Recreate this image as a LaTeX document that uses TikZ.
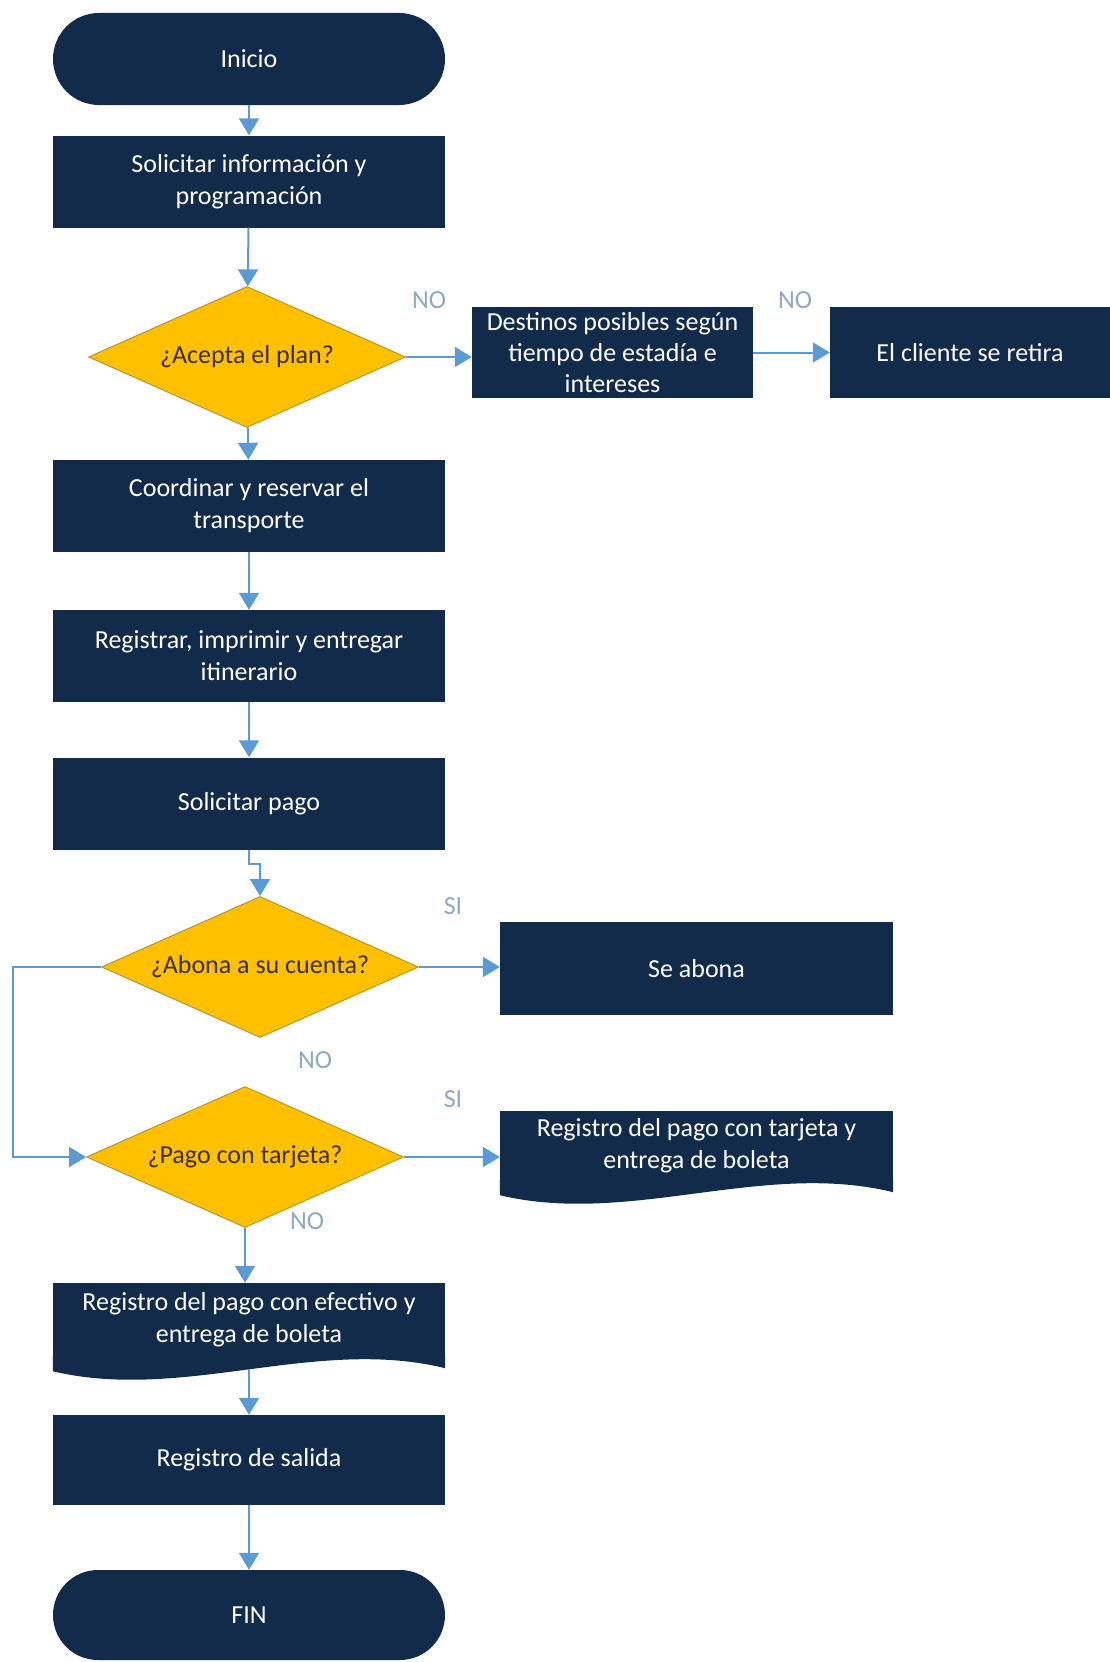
\documentclass[tikz,border=0pt]{standalone}
\usepackage{fontspec}
\setmainfont{Carlito}
\usetikzlibrary{shapes.geometric,arrows.meta,positioning}

\definecolor{navy}{HTML}{132B4B}
\definecolor{gold}{HTML}{FFC000}
\definecolor{goldline}{HTML}{B8962E}
\definecolor{flowblue}{HTML}{5B9BD5}
\definecolor{tagblue}{HTML}{8FA8C4}
\definecolor{asktext}{HTML}{3B2E0A}

\tikzset{
  every node/.style={font=\fontsize{26}{32}\selectfont},
  proc/.style={rectangle, fill=navy, text=white, align=center,
    minimum width=392pt, minimum height=92pt, inner sep=2pt},
  term/.style={proc, rounded corners=46pt},
  ask/.style={diamond, fill=gold, draw=goldline, line width=1pt,
    text=asktext, shape aspect=2.25, minimum width=317pt,
    minimum height=141pt, inner sep=0pt},
  paper/.style={proc, minimum height=72pt},
  tag/.style={text=tagblue},
  flow/.style={draw=flowblue, line width=2pt,
    -{Triangle[width=20pt,length=17pt]}}
}

% wavy lower edge of a document box
\newcommand\wavebottom[1]{%
  \fill[navy] (#1.south west) -- ([yshift=-15pt]#1.south west)
    .. controls ([xshift=130pt,yshift=-46pt]#1.south west)
    and ([xshift=-130pt,yshift=20pt]#1.south east)
    .. ([yshift=-12pt]#1.south east) -- (#1.south east) -- cycle;}

\begin{document}
\begin{tikzpicture}[x=1pt, y=-1pt]
    \useasboundingbox (0,0) rectangle (1110,1662);

    % main column
    \node[term] (inicio) at (249,59) {Inicio};
    \node[proc] (info) at (249,181.5) {Solicitar información y\\programación};
    \node[ask] (plan) at (247,357) {¿Acepta el plan?};
    \node[proc] (coord) at (249,506) {Coordinar y reservar el\\transporte};
    \node[proc] (itin) at (249,656) {Registrar, imprimir y entregar\\itinerario};
    \node[proc] (pago) at (249,803.5) {Solicitar pago};
    \node[ask] (abona) at (260,967) {¿Abona a su cuenta?};
    \node[ask] (tarjeta) at (245,1157) {¿Pago con tarjeta?};
    \node[paper, minimum height=73pt] (efectivo) at (249,1319.5)
      {Registro del pago con efectivo y\\entrega de boleta};
    \wavebottom{efectivo}
    \node[proc, minimum height=90pt] (salida) at (249,1460) {Registro de salida};
    \node[term, minimum height=90pt, rounded corners=45pt] (fin) at (249,1615) {FIN};

    % right side
    \node[proc, minimum width=281pt, minimum height=91pt, inner sep=0pt,
      font=\fontsize{26}{31}\selectfont] (destinos) at (612.5,352.5)
      {Destinos posibles según\\tiempo de estadía e\\intereses};
    \node[proc, minimum width=280pt, minimum height=91pt] (retira) at (970,352.5)
      {El cliente se retira};
    \node[proc, minimum width=393pt, minimum height=93pt] (seabona) at (696.5,968.5)
      {Se abona};
    \node[paper, minimum width=393pt, minimum height=69pt] (ptarjeta) at (696.5,1145.5)
      {Registro del pago con tarjeta y\\entrega de boleta};
    \wavebottom{ptarjeta}

    \coordinate (vuelta) at (13,967);

    % connectors
    \foreach \a/\b in {inicio/info, info/plan, plan/coord, coord/itin,
                       itin/pago, salida/fin, destinos/retira}
      \draw[flow] (\a) -- (\b);
    \draw[flow] (plan.east) -- (plan.east -| destinos.west);
    \draw[flow] (pago.south) -- ++(0,14) -| (abona.north);
    \draw[flow] (abona.east) -- (abona.east -| seabona.west);
    \draw[flow] (abona.west) -- (vuelta) |- (tarjeta.west);
    \draw[flow] (tarjeta.east) -- (tarjeta.east -| ptarjeta.west);
    \draw[flow] (tarjeta.south) -- (tarjeta.south |- efectivo.north);
    \draw[flow, shorten <=13pt] (efectivo) -- (salida);

    % answers
    \foreach \t/\x/\y [count=\i] in {NO/429/300, NO/795/300, SI/453/906,
                                     NO/315/1060, SI/453/1099, NO/307/1221}
      \node[tag] (resp\i) at (\x,\y) {\t};
\end{tikzpicture}
\end{document}
